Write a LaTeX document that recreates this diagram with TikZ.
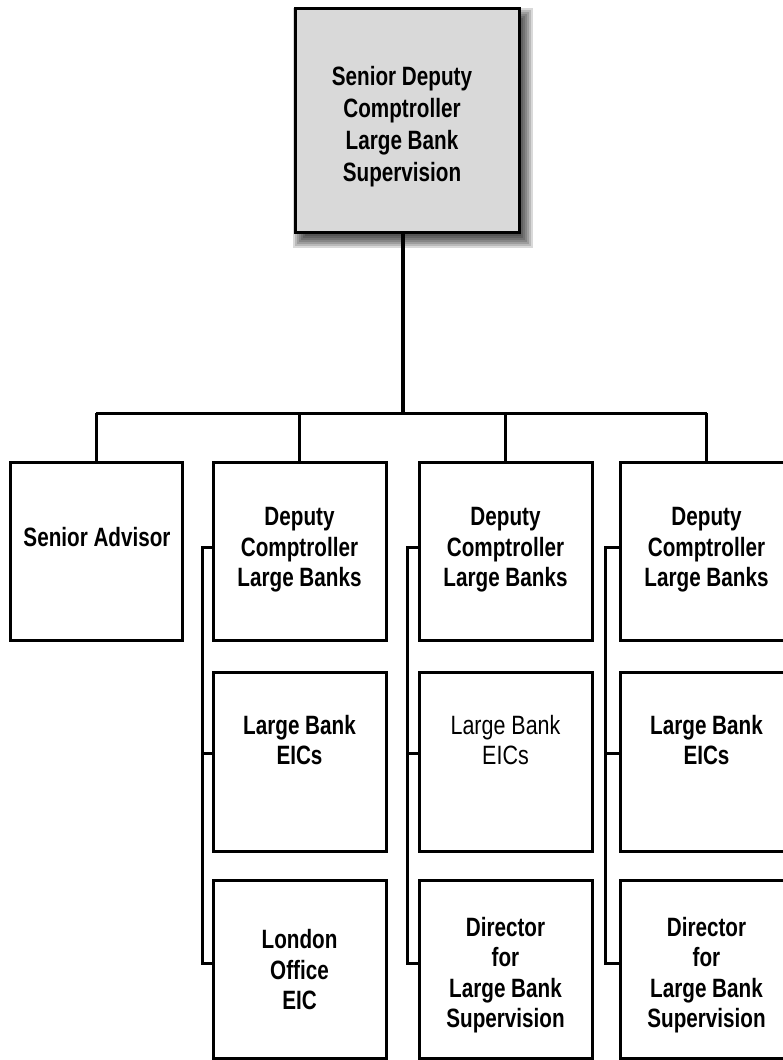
\documentclass[tikz,border=0pt]{standalone}
\usepackage{fontspec}
\setmainfont{Liberation Sans}[FakeStretch=0.81]
\newfontfamily\bfx{Liberation Sans Bold}[FakeStretch=0.78]
\usetikzlibrary{calc}
\definecolor{topgray}{HTML}{D9D9D9}
\begin{document}
\begin{tikzpicture}[x=1pt,y=-1pt,
  box/.style={draw, line width=3pt, minimum width=173pt, minimum height=178pt, inner sep=0pt},
  btxt/.style={align=center, inner sep=0pt, font=\bfx\fontsize{26.5}{30.5}\selectfont},
  rtxt/.style={align=center, inner sep=0pt, font=\fontsize{26.5}{30.5}\selectfont},
  wire/.style={line width=3pt}]
\useasboundingbox (0,0) rectangle (783,1060);
% soft shadow of top box
\foreach \i in {-4,-2,0,2,4,6,8}
  \fill[black,opacity=0.15] (301-\i,16-\i) rectangle (525+\i,240+\i);
\node[box, fill=topgray, minimum width=224pt, minimum height=224pt] (top) at (407,120) {};
\node[btxt, font=\bfx\fontsize{26.5}{32}\selectfont] (toptxt) at (402,127) {Senior Deputy\\Comptroller\\Large Bank\\Supervision};
% row 1
\node[box, minimum width=172pt] (sa) at (96,551) {};
\node[box] (d1) at (299.5,551) {};
\node[box] (d2) at (505.5,551) {};
\node[box] (d3) at (706.5,551) {};
% row 2
\node[box, minimum height=179pt] (e1) at (299.5,761.5) {};
\node[box, minimum height=179pt] (e2) at (505.5,761.5) {};
\node[box, minimum height=179pt] (e3) at (706.5,761.5) {};
% row 3
\node[box] (l1) at (299.5,969) {};
\node[box] (l2) at (505.5,969) {};
\node[box] (l3) at (706.5,969) {};
% texts
\node[btxt] (satxt) at (97,537) {Senior Advisor};
\node[btxt] (d1txt) at (299.5,550) {Deputy\\Comptroller\\Large Banks};
\node[btxt] (d2txt) at (505.5,550) {Deputy\\Comptroller\\Large Banks};
\node[btxt] (d3txt) at (706.5,550) {Deputy\\Comptroller\\Large Banks};
\node[btxt] (e1txt) at (299.5,740) {Large Bank\\EICs};
\node[rtxt] (e2txt) at (505.5,740) {Large Bank\\EICs};
\node[btxt] (e3txt) at (706.5,740) {Large Bank\\EICs};
\node[btxt] (l1txt) at (299.5,970) {London\\Office\\EIC};
\node[btxt] (l2txt) at (505.5,975) {Director\\for\\Large Bank\\Supervision};
\node[btxt] (l3txt) at (706.5,975) {Director\\for\\Large Bank\\Supervision};
% connectors
\coordinate (bar) at (403,413);
\draw[wire, line width=3.5pt] ($(top.south)+(-4,0)$) -- (bar);
\draw[wire] (sa.north |- bar) -- (d3.north |- bar);
\draw[wire] (sa.north) -- (sa.north |- bar);
\draw[wire] (d1.north) -- (d1.north |- bar);
\draw[wire] (d2.north) -- (d2.north |- bar);
\draw[wire] (d3.north) -- (d3.north |- bar);
% side brackets
\coordinate (t1) at (0,547);
\coordinate (t2) at (0,753);
\coordinate (t3) at (0,963);
\draw[wire] (d1.west |- t1) -- (202,547) -- (202,963) -- (l1.west |- t3);
\draw[wire] (202,753) -- (e1.west |- t2);
\draw[wire] (d2.west |- t1) -- (407,547) -- (407,963) -- (l2.west |- t3);
\draw[wire] (407,753) -- (e2.west |- t2);
\draw[wire] (d3.west |- t1) -- (605,547) -- (605,963) -- (l3.west |- t3);
\draw[wire] (605,753) -- (e3.west |- t2);
\end{tikzpicture}
\end{document}
